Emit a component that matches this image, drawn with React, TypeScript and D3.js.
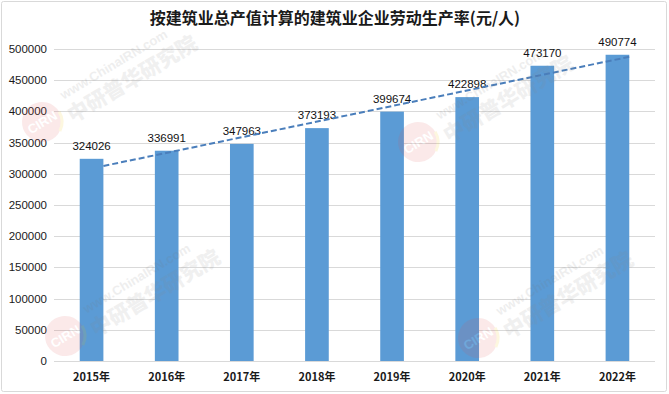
import React from "react";
import * as d3 from "d3";

const title = "按建筑业总产值计算的建筑业企业劳动生产率(元/人)";
const years = ["2015年", "2016年", "2017年", "2018年", "2019年", "2020年", "2021年", "2022年"];
const values = [324026, 336991, 347963, 373193, 399674, 422898, 473170, 490774];
const yTicks = [0, 50000, 100000, 150000, 200000, 250000, 300000, 350000, 400000, 450000, 500000];
const watermarkSpots = [
  [42, 122],
  [65, 336],
  [418, 142],
  [478, 338],
];

const W = 669;
const H = 394;
const M = { left: 54, right: 655, top: 49, bottom: 361 };

export default function App() {
  const x = d3.scaleBand<string>().domain(years).range([M.left, M.right]).paddingInner(0.685).paddingOuter(0.3425);
  const y = d3.scaleLinear().domain([0, 500000]).range([M.bottom, M.top]);
  const bw = x.bandwidth();

  // linear trendline (least squares over category index 1..n)
  const n = values.length;
  const idx = values.map((_, i) => i + 1);
  const mx = d3.mean(idx)!;
  const my = d3.mean(values)!;
  const slope = d3.sum(idx.map((xi, i) => (xi - mx) * (values[i] - my))) / d3.sum(idx.map((xi) => (xi - mx) ** 2));
  const icpt = my - slope * mx;
  const step = x.step();
  const c0 = x(years[0])! + bw / 2;
  const toIdx = (px: number) => 1 + (px - c0) / step;
  const xs = x(years[0])! + bw;
  const xe = x(years[n - 1])! + bw;
  const trendPts: [number, number][] = [xs, xe].map((px) => [px, y(icpt + slope * toIdx(px))]);
  const line = d3.line<[number, number]>().x((d) => d[0]).y((d) => d[1]);

  const numFont = "'Liberation Sans', Arial, sans-serif";
  const cjkFont = "'Noto Sans CJK SC', 'Noto Sans', sans-serif";

  return (
    <svg width={W} height={H} style={{ position: "absolute", left: 0, top: 0, background: "#fff" }}>
      <rect x={0} y={0} width={W} height={H} fill="#fff" />
      <rect x={1.5} y={1.5} width={665} height={390} fill="none" stroke="#d9d9d9" strokeWidth={1} rx={2} />
      <text x={335} y={24} textAnchor="middle" fontFamily={cjkFont} fontSize={16} fontWeight={700} fill="#1a1a1a">
        {title}
      </text>
      {yTicks.map((t) => (
        <g key={t}>
          <line x1={M.left} x2={M.right} y1={Math.round(y(t)) + 0.5} y2={Math.round(y(t)) + 0.5} stroke="#d9d9d9" strokeWidth={1} />
          <text x={47} y={y(t) + 4} textAnchor="end" fontFamily={numFont} fontSize={11.5} fill="#1a1a1a">
            {t}
          </text>
        </g>
      ))}
      {years.map((yr, i) => (
        <g key={yr}>
          <rect x={x(yr)} y={y(values[i])} width={bw} height={y(0) - y(values[i])} fill="#5b9bd5" />
          <text x={x(yr)! + bw / 2} y={y(values[i]) - 9} textAnchor="middle" fontFamily={numFont} fontSize={11.5} fill="#111">
            {values[i]}
          </text>
          <text x={x(yr)! + bw / 2} y={381} textAnchor="middle" fontFamily={cjkFont} fontSize={11} fontWeight={700} fill="#1a1a1a">
            {yr}
          </text>
        </g>
      ))}
      <path d={line(trendPts)!} fill="none" stroke="#4a7ebb" strokeWidth={2} strokeDasharray="6 3" />
      {watermarkSpots.map(([cx, cy], k) => (
        <g key={k} transform={`translate(${cx},${cy}) rotate(-31)`} opacity={0.12} pointerEvents="none">
          <circle r={20} fill="#e05050" />
          <circle r={20} fill="none" stroke="#f2c200" strokeWidth={3} strokeDasharray="20 200" />
          <text x={0} y={5} textAnchor="middle" fontFamily={numFont} fontSize={13} fontWeight={700} fill="#fff">
            CIRN
          </text>
          <text x={30} y={-8} fontFamily={numFont} fontSize={13} fontWeight={700} fill="#777">
            www.ChinaIRN.com
          </text>
          <text x={26} y={17} fontFamily={cjkFont} fontSize={21} fontWeight={900} fill="#888">
            中研普华研究院
          </text>
        </g>
      ))}
    </svg>
  );
}
